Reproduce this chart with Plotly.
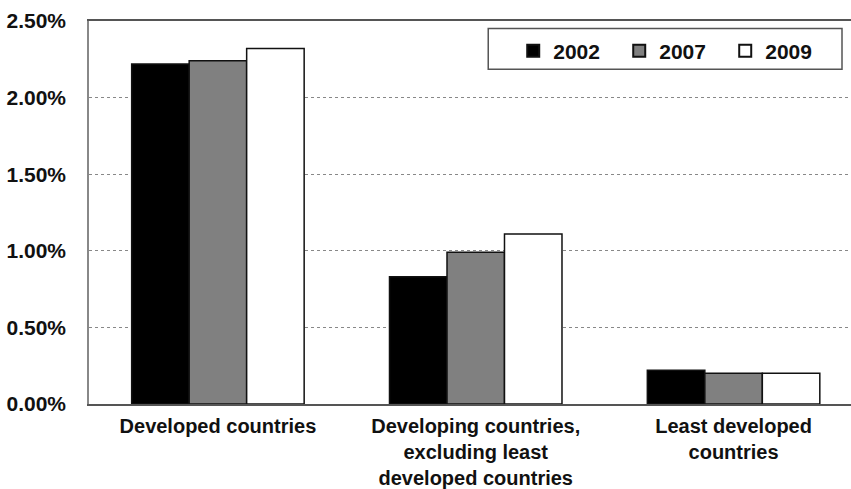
import plotly.graph_objects as go

categories = [
    "Developed countries",
    "Developing countries,<br>excluding least<br>developed countries",
    "Least developed<br>countries",
]
years = ["2002", "2007", "2009"]
values_2002 = [2.22, 0.83, 0.22]
values_2007 = [2.24, 0.99, 0.20]
values_2009 = [2.32, 1.11, 0.20]
series = [values_2002, values_2007, values_2009]
fill_colors = ["#000000", "#808080", "#ffffff"]
y_ticks = [0, 0.5, 1.0, 1.5, 2.0, 2.5]
y_tick_text = ["%.2f%%" % v for v in y_ticks]

W, H = 851, 489
ML, MR, MT, MB = 88.5, 0, 20.5, 84.5
pw = W - ML - MR
ph = H - MT - MB

FONT = "Liberation Sans, Arial, sans-serif"
FS = 21
FSX = 20

fig = go.Figure()
for name, vals, col in zip(years, series, fill_colors):
    fig.add_trace(go.Bar(
        x=[0, 1, 2], y=vals, name=name,
        marker=dict(color=col, line=dict(color="#111111", width=1.5)),
    ))

def px_x(x):
    return (x - ML) / pw

def px_y(y):
    return 1 - (y - MT) / ph

fig.add_shape(type="rect", xref="paper", yref="paper",
              x0=px_x(488), x1=px_x(842), y0=px_y(69), y1=px_y(28),
              line=dict(color="#555555", width=1.5), fillcolor="white", layer="below")

fig.update_layout(
    width=W, height=H,
    margin=dict(l=ML, r=MR, t=MT, b=MB, pad=0, autoexpand=False),
    paper_bgcolor="white", plot_bgcolor="white",
    barmode="group", bargap=0.331, bargroupgap=0,
    font=dict(family=FONT, size=FS, color="#111111", weight="bold"),
    showlegend=True,
    legend=dict(
        orientation="h", x=px_x(513), y=px_y(30), xanchor="left", yanchor="top",
        bgcolor="rgba(0,0,0,0)", borderwidth=0,
        font=dict(family=FONT, size=FS, color="#111111", weight="bold"),
        entrywidth=61, entrywidthmode="pixels",
        itemsizing="constant",
    ),
    xaxis=dict(
        range=[-0.5, -0.5 + pw / 258.0], automargin=False,
        tickmode="array", tickvals=[0, 1, 2], ticktext=categories,
        showline=True, linecolor="#555555", linewidth=1.5, mirror=True,
        showgrid=False, ticks="", ticklabelstandoff=3,
        tickfont=dict(family=FONT, size=FSX, color="#111111", weight="bold"),
    ),
    yaxis=dict(
        range=[0, 2.5], tickmode="array", tickvals=y_ticks, ticktext=y_tick_text,
        automargin=False,
        showline=True, linecolor="#888888", linewidth=1.5,
        showgrid=True, gridcolor="#888888", griddash="dot", gridwidth=1,
        zeroline=False, ticks="", ticklabelstandoff=17,
        tickfont=dict(family=FONT, size=FS, color="#111111", weight="bold"),
    ),
)

fig.write_html("out.html")
